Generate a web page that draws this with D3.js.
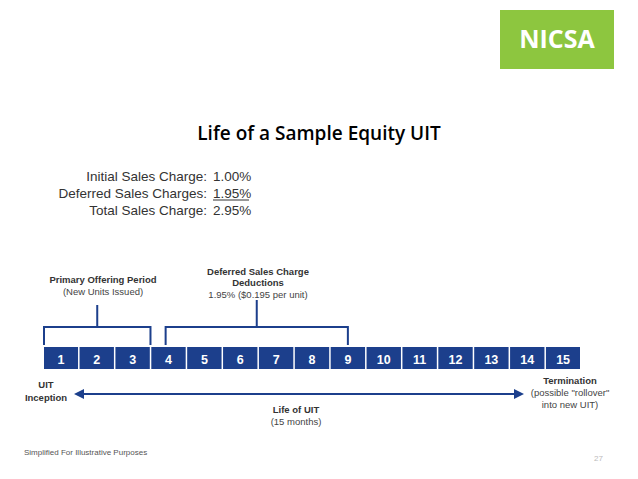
<!DOCTYPE html><html><head><meta charset="utf-8"><script src="https://d3js.org/d3.v7.min.js"></script>
<style>body{margin:0;background:#fff}</style></head><body><svg id="c" width="638" height="479"></svg>
<script>
const months = d3.range(1,16);
const chargeLabels = ["Initial Sales Charge:","Deferred Sales Charges:","Total Sales Charge:"];
const chargeValues = ["1.00%","1.95%","2.95%"];
const periods = [{from:1,to:3,title:["Primary Offering Period"],sub:["(New Units Issued)"]},
                 {from:4,to:9,title:["Deferred Sales Charge","Deductions"],sub:["1.95% ($0.195 per unit)"]}];
const svg=d3.select("#c");
const navy="#1c3f8c";
const x=d3.scaleBand().domain(months).range([44,580]).paddingInner(0.06);
svg.append("rect").attr("x",500).attr("y",10).attr("width",114).attr("height",59).attr("fill","#8dc63f");
svg.append("text").attr("x",557).attr("y",48).attr("text-anchor","middle").attr("fill","#fff").attr("font-family","Open Sans").attr("font-weight","bold").attr("font-size",25).text("NICSA");
svg.append("text").attr("x",319).attr("y",140).attr("text-anchor","middle").attr("font-family","Open Sans").attr("font-weight","600").attr("font-size",19).text("Life of a Sample Equity UIT");
const f="Liberation Sans";
chargeLabels.forEach((l,i)=>{
 svg.append("text").attr("x",207).attr("y",181+i*17).attr("text-anchor","end").attr("font-family",f).attr("font-size",13.5).attr("fill","#333").text(l);
 svg.append("text").attr("x",213).attr("y",181+i*17).attr("font-family",f).attr("font-size",13.5).attr("fill","#333").text(chargeValues[i]);
});
svg.append("line").attr("x1",213).attr("x2",249).attr("y1",200).attr("y2",200).attr("stroke","#333");
svg.append("rect").attr("x",44).attr("y",347).attr("width",536).attr("height",22).attr("fill",navy);
const g=svg.selectAll("g.cell").data(months).join("g");
g.filter(d=>d>1).append("line").attr("x1",d=>x(d)-x.step()*0.03).attr("x2",d=>x(d)-x.step()*0.03).attr("y1",347).attr("y2",369).attr("stroke","#fff").attr("stroke-width",1.5);
g.append("text").attr("x",d=>x(d)+x.bandwidth()/2).attr("y",363.5).attr("text-anchor","middle").attr("fill","#fff").attr("font-family",f).attr("font-weight","bold").attr("font-size",12.5).text(d=>d);
periods.forEach((p,i)=>{
 const x0=i==0?44:x(p.from)+14, x1=i==0?x(p.to)+x.bandwidth()+1:x(p.to)+x.bandwidth()/2, mid=(x0+x1)/2;
 const top=i==0?305:300;
 svg.append("path").attr("d",`M${x0},345V327H${x1}V345M${mid},327V${top}`).attr("fill","none").attr("stroke",navy).attr("stroke-width",2);
 const tx=i==0?103:258, ty=i==0?283:275;
 p.title.forEach((t,j)=>svg.append("text").attr("x",tx).attr("y",ty+j*11).attr("text-anchor","middle").attr("font-family",f).attr("font-weight","bold").attr("font-size",9.5).attr("fill","#333").text(t));
 p.sub.forEach((t,j)=>svg.append("text").attr("x",tx).attr("y",ty+(p.title.length+j)*11+1).attr("text-anchor","middle").attr("font-family",f).attr("font-size",9.5).attr("fill","#444").text(t));
});
svg.append("defs").html('<marker id="a" viewBox="0 0 10 10" refX="8" refY="5" markerWidth="5" markerHeight="5" orient="auto-start-reverse"><path d="M0,0L10,5L0,10z" fill="'+navy+'"/></marker>');
svg.append("line").attr("x1",76).attr("x2",522).attr("y1",394).attr("y2",394).attr("stroke",navy).attr("stroke-width",2).attr("marker-start","url(#a)").attr("marker-end","url(#a)");
const T=(t,xx,yy,b,a,c)=>svg.append("text").attr("x",xx).attr("y",yy).attr("text-anchor",a||"middle").attr("font-family",f).attr("font-weight",b?"bold":null).attr("font-size",9.5).attr("fill",c||"#333").text(t);
T("UIT",46,388,1);T("Inception",46,401,1);
T("Termination",570,384,1);T("(possible \"rollover\"",570,396,0,null,"#444");T("into new UIT)",570,408,0,null,"#444");
T("Life of UIT",296,413,1);T("(15 months)",296,425,0,null,"#444");
T("Simplified For Illustrative Purposes",24,455,0,"start","#555").attr("font-size",8);
T("27",594,461,0,"start","#bbb").attr("font-size",8);
</script></body></html>
